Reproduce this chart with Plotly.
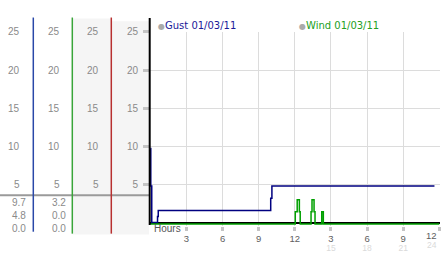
import plotly.graph_objects as go

W, H = 442, 253

# ---------------- data ----------------
hour_ticks = [3, 6, 9, 12, 15, 18, 21, 24]
hour_labels = ["3", "6", "9", "12", "3", "6", "9", "12"]
hour24_ticks = [15, 18, 21, 24]
hour24_labels = ["15", "18", "21", "24"]
y_ticks = [5, 10, 15, 20, 25]
y_labels = ["5", "10", "15", "20", "25"]

gust_name = "Gust 01/03/11"
wind_name = "Wind 01/03/11"

gust_t = [0.0, 0.04, 0.12, 0.6, 0.66, 10.0, 10.1, 23.6]
gust_v = [9.7, 4.8, 0.0, 0.8, 1.6, 3.2, 4.8, 4.8]

wind_t = [0.0, 12.04, 12.2, 12.38, 12.45, 13.35, 13.43, 13.6, 13.68, 14.24, 14.37, 24.0]
wind_v = [0.0, 1.6, 3.2, 1.6, 0.0, 1.6, 3.2, 1.6, 0.0, 1.6, 0.0, 0.0]

gust_stats = ["%.1f" % max(gust_v), "%.1f" % gust_v[-1], "%.1f" % min(gust_v)]
wind_stats = ["%.1f" % max(wind_v), "%.1f" % wind_v[-1], "%.1f" % min(wind_v)]

# ---------------- helpers ----------------
def px(x):
    return x / W

def py(y):
    return 1 - y / H

NAVY = "#000080"
GREEN = "#00a000"
LBL = "#8a8a8a"
TICK = "#5e5e5e"
TICK2 = "#dadada"
FONT = "Liberation Sans"

fig = go.Figure()
fig.add_trace(go.Scatter(x=gust_t, y=gust_v, mode="lines", name=gust_name,
                         line=dict(color=NAVY, width=1.5, shape="hv"),
                         xaxis="x", yaxis="y", hoverinfo="skip"))
fig.add_trace(go.Scatter(x=wind_t, y=wind_v, mode="lines", name=wind_name,
                         line=dict(color=GREEN, width=1.5, shape="hv"),
                         xaxis="x2", yaxis="y2", hoverinfo="skip"))

# the last label of each row sits at the right edge: it is right-aligned to its tick
main_text = hour_labels[:-1] + [""]
row2_text = hour24_labels[:-1] + [""]

xr = [-0.025, 24.06]
fig.update_layout(
    width=W, height=H, margin=dict(l=0, r=0, t=0, b=0),
    paper_bgcolor="white", plot_bgcolor="white", showlegend=False,
    xaxis=dict(domain=[px(150), px(440)], range=xr, anchor="y",
               tickmode="array", tickvals=hour_ticks, ticktext=main_text,
               showgrid=True, gridcolor="#dcdcdc", gridwidth=1,
               ticks="outside", ticklen=4, tickwidth=3, tickcolor="#c4c4c4",
               tickfont=dict(family=FONT, size=9.5, color=TICK),
               showline=False, zeroline=False, fixedrange=True),
    xaxis2=dict(overlaying="x", range=xr, anchor="y",
                tickmode="array", tickvals=hour24_ticks, ticktext=row2_text,
                showgrid=False, ticks="", ticklabelstandoff=16,
                tickfont=dict(family=FONT, size=8.5, color=TICK2),
                showline=False, zeroline=False, fixedrange=True),
    yaxis=dict(domain=[py(229), py(27)], range=[-0.44, 25], anchor="x",
               tickmode="array", tickvals=y_ticks, ticktext=y_labels,
               showgrid=True, gridcolor="#dcdcdc", gridwidth=1,
               zeroline=True, zerolinecolor="#000", zerolinewidth=1.5,
               ticks="outside", ticklen=6, tickwidth=3, tickcolor="#c4c4c4",
               ticklabelstandoff=3,
               tickfont=dict(family=FONT, size=10, color=LBL),
               showline=False, fixedrange=True),
    yaxis2=dict(overlaying="y", anchor="x", range=[-0.25, 25.19], visible=False,
                fixedrange=True),
)

shapes = [
    dict(type="rect", xref="paper", yref="paper", x0=px(72.5), x1=px(111), y0=py(238), y1=py(13),
         fillcolor="#f5f5f5", line=dict(width=0), layer="below"),
    dict(type="rect", xref="paper", yref="paper", x0=px(111), x1=px(149), y0=py(238), y1=py(16),
         fillcolor="#f5f5f5", line=dict(width=0), layer="below"),
    dict(type="line", xref="paper", yref="paper", x0=0, x1=px(149), y0=py(197), y1=py(197),
         line=dict(color="#9a9a9a", width=2)),
    dict(type="line", xref="paper", yref="paper", x0=px(33.3), x1=px(33.3), y0=py(235), y1=py(12),
         line=dict(color="#2a48a8", width=1.5)),
    dict(type="line", xref="paper", yref="paper", x0=px(72.3), x1=px(72.3), y0=py(237), y1=py(12),
         line=dict(color="#3aa53a", width=1.5)),
    dict(type="line", xref="paper", yref="paper", x0=px(111.3), x1=px(111.3), y0=py(237), y1=py(12),
         line=dict(color="#b83030", width=1.5)),
    dict(type="line", xref="paper", yref="paper", x0=px(149.7), x1=px(149.7), y0=py(228), y1=py(12.5),
         line=dict(color="#000", width=2)),
]

ann = []
for right in (22, 61.5, 100.5):
    for v, lab in zip(y_ticks, y_labels):
        ann.append(dict(x=px(right), xref="paper", y=v, yref="y", text=lab,
                        xanchor="right", yanchor="middle", showarrow=False,
                        font=dict(family=FONT, size=10, color=LBL)))
for right, stats in ((28, gust_stats), (68, wind_stats)):
    for yy, s in zip((205, 218.5, 232), stats):
        ann.append(dict(x=px(right), xref="paper", y=py(yy), yref="paper", text=s,
                        xanchor="right", yanchor="middle", showarrow=False,
                        font=dict(family=FONT, size=10, color=LBL)))
# right-edge labels of the hour axis, placed on the x scale
ann.append(dict(x=hour_ticks[-1], xref="x", y=py(239), yref="paper", text=hour_labels[-1],
                xanchor="right", yanchor="middle", showarrow=False,
                font=dict(family=FONT, size=9.5, color=TICK)))
ann.append(dict(x=hour24_ticks[-1], xref="x", y=py(248.5), yref="paper", text=hour24_labels[-1],
                xanchor="right", yanchor="middle", showarrow=False,
                font=dict(family=FONT, size=8.5, color=TICK2)))
ann.append(dict(x=px(152), xref="paper", y=py(232), yref="paper", text="Hours",
                xanchor="left", yanchor="middle", showarrow=False,
                font=dict(family=FONT, size=10, color="#555")))
for xx, name, col in ((156, gust_name, "#1a1a99"), (297, wind_name, "#22a022")):
    ann.append(dict(x=px(xx), xref="paper", y=py(20), yref="paper",
                    text="<span style='color:#aaaaaa;font-size:8px'>●</span>" + name,
                    xanchor="left", yanchor="middle", showarrow=False,
                    font=dict(family="DejaVu Sans", size=10, color=col)))

fig.update_layout(shapes=shapes, annotations=ann)
fig.write_html("out.html", config={"displayModeBar": False})
